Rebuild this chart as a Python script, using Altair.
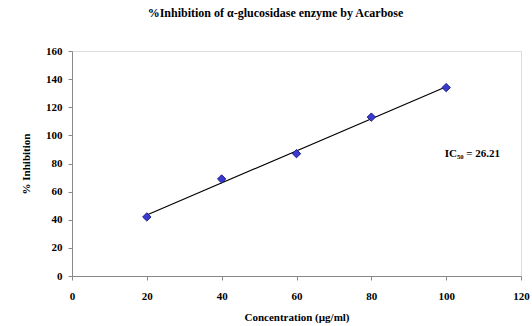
import altair as alt
import pandas as pd

conc = [20, 40, 60, 80, 100]
inhibition = [42, 69, 87, 113, 134]
x_ticks = [0, 20, 40, 60, 80, 100, 120]
y_ticks = [0, 20, 40, 60, 80, 100, 120, 140, 160]
ic50_label = ["IC₅₀ = 26.21"]

df = pd.DataFrame({"x": conc, "y": inhibition})
FONT = "Liberation Serif"

xscale = alt.Scale(domain=[0, 120], nice=False, zero=True)
yscale = alt.Scale(domain=[0, 160], nice=False)

xaxis = alt.Axis(values=x_ticks, title="Concentration (µg/ml)", grid=False,
                 labelOverlap=False, labelFlush=False,
                 labelFont=FONT, labelFontWeight="bold", labelFontSize=11, labelColor="black",
                 titleFont=FONT, titleFontWeight="bold", titleFontSize=11, titleColor="black",
                 domainColor="#888888", tickColor="#888888", tickSize=4, labelPadding=10, titlePadding=10)
yaxis = alt.Axis(values=y_ticks, title="% Inhibition", grid=False,
                 labelOverlap=False, labelFlush=False,
                 labelFont=FONT, labelFontWeight="bold", labelFontSize=11, labelColor="black",
                 titleFont=FONT, titleFontWeight="bold", titleFontSize=11, titleColor="black",
                 domainColor="#888888", tickColor="#888888", tickSize=4, labelPadding=6, titlePadding=14)

base = alt.Chart(df)

line = base.transform_regression("x", "y").mark_line(color="black", strokeWidth=1.2).encode(
    x=alt.X("x:Q", scale=xscale, axis=xaxis),
    y=alt.Y("y:Q", scale=yscale, axis=yaxis),
)

points = base.mark_point(shape="diamond", filled=True, size=70, fill="#3a3ad0", opacity=1,
                         stroke="#1e1e8a", strokeWidth=1).encode(
    x=alt.X("x:Q", scale=xscale, axis=xaxis),
    y=alt.Y("y:Q", scale=yscale, axis=yaxis),
)

label_df = pd.DataFrame({"t": ic50_label, "x": [107], "y": [87]})
label = alt.Chart(label_df).mark_text(font=FONT, fontWeight="bold", fontSize=11, align="center",
                                      color="black").encode(
    x=alt.X("x:Q", scale=xscale, axis=xaxis),
    y=alt.Y("y:Q", scale=yscale, axis=yaxis),
    text="t:N",
)

chart = (line + points + label).properties(
    width=449, height=225,
    title=alt.TitleParams("%Inhibition of α-glucosidase enzyme by Acarbose", font=FONT,
                          fontWeight="bold", fontSize=12, color="black", anchor="middle",
                          dx=-21, offset=25),
    autosize=alt.AutoSizeParams(type="none"),
    padding={"left": 72, "top": 51, "right": 11, "bottom": 50},
).configure_view(stroke=None).configure(background="white")

chart.save("out.html", embed_options={"renderer": "svg", "actions": False})
